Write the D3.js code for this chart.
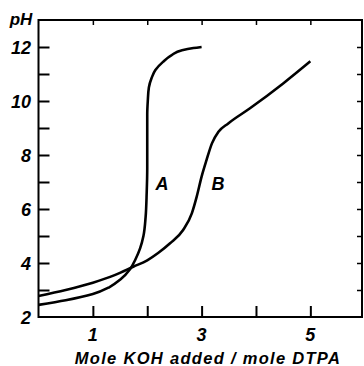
<!DOCTYPE html>
<html>
<head>
<meta charset="utf-8">
<script src="https://cdn.jsdelivr.net/npm/d3@7"></script>
<style>
  body { margin: 0; background: #fff; }
  text { font-family: "Liberation Sans", Arial, sans-serif; font-weight: bold; font-style: italic; fill: #000; }
</style>
</head>
<body>
<div id="chart"></div>
<script>
// curve A
let a_x  = [0, 0.5, 1.0, 1.3, 1.5, 1.69, 1.78, 1.87, 1.93, 1.97, 1.99, 2.0, 2.0, 2.0, 2.01, 2.03, 2.08, 2.15, 2.29, 2.45, 2.64, 2.85, 3.0];
let a_ph = [2.45, 2.62, 2.85, 3.1, 3.38, 3.79, 4.12, 4.55, 5.0, 5.7, 6.6, 7.5, 8.5, 9.5, 10.0, 10.5, 10.85, 11.15, 11.45, 11.7, 11.88, 11.96, 12.0];
// curve B
let b_x  = [0, 0.5, 1.0, 1.4, 1.75, 2.0, 2.2, 2.42, 2.66, 2.82, 2.91, 3.0, 3.09, 3.19, 3.31, 3.49, 3.89, 4.5, 5.0];
let b_ph = [2.78, 3.0, 3.27, 3.55, 3.87, 4.1, 4.37, 4.73, 5.22, 5.84, 6.46, 7.2, 7.81, 8.43, 8.86, 9.17, 9.73, 10.65, 11.47];

let x_ticks = [1, 2, 3, 4, 5];
let x_labels = [1, 3, 5];
let y_ticks = [3, 4, 5, 6, 7, 8, 9, 10, 11, 12];
let y_labels = [2, 4, 6, 8, 10, 12];

let width = 364, height = 366;
let m_left = 38.5, m_right = 362, m_top = 20, m_bottom = 317;

let svg = d3.select("#chart").append("svg")
    .attr("width", width)
    .attr("height", height);

let x = d3.scaleLinear().domain([0, 5.95]).range([m_left, m_right]);
let y = d3.scaleLinear().domain([2, 13]).range([m_bottom, m_top]);

// frame
svg.append("rect")
    .attr("x", m_left).attr("y", m_top)
    .attr("width", m_right - m_left).attr("height", m_bottom - m_top)
    .attr("fill", "none").attr("stroke", "#000").attr("stroke-width", 2);

// ticks, long on left / bottom, short on top / right
svg.append("g").attr("transform", `translate(0, ${m_bottom})`)
    .call(d3.axisTop(x).tickValues(x_ticks).tickSize(11).tickFormat(""))
    .call(g => g.select(".domain").remove())
    .selectAll("line").attr("stroke-width", 2);
svg.append("g").attr("transform", `translate(0, ${m_top})`)
    .call(d3.axisBottom(x).tickValues(x_ticks).tickSize(5).tickFormat(""))
    .call(g => g.select(".domain").remove())
    .selectAll("line").attr("stroke-width", 1.5);
svg.append("g").attr("transform", `translate(${m_left}, 0)`)
    .call(d3.axisRight(y).tickValues(y_ticks).tickSize(11).tickFormat(""))
    .call(g => g.select(".domain").remove())
    .selectAll("line").attr("stroke-width", 2);
svg.append("g").attr("transform", `translate(${m_right}, 0)`)
    .call(d3.axisLeft(y).tickValues(y_ticks).tickSize(5).tickFormat(""))
    .call(g => g.select(".domain").remove())
    .selectAll("line").attr("stroke-width", 1.5);

// tick labels
svg.selectAll(".ylab").data(y_labels).enter().append("text")
    .attr("x", 31).attr("y", d => y(d) + 6.5)
    .attr("text-anchor", "end")
    .style("font-size", "18px")
    .text(d => d);
svg.selectAll(".xlab").data(x_labels).enter().append("text")
    .attr("x", d => x(d)).attr("y", 341)
    .attr("text-anchor", "middle")
    .style("font-size", "18px")
    .text(d => d);

svg.append("text").attr("x", 21).attr("y", 25)
    .attr("text-anchor", "middle").style("font-size", "17px").text("pH");
svg.append("text").attr("x", 208).attr("y", 364)
    .attr("text-anchor", "middle").style("font-size", "16.5px")
    .style("letter-spacing", "1.3px")
    .text("Mole KOH added / mole DTPA");

// curves (A is monotone in pH, B in x)
let lineA = d3.line()
    .x(d => x(d[0])).y(d => y(d[1]))
    .curve(d3.curveMonotoneY);
let lineB = d3.line()
    .x(d => x(d[0])).y(d => y(d[1]))
    .curve(d3.curveMonotoneX);

svg.append("path").datum(d3.zip(a_x, a_ph))
    .attr("d", lineA).attr("fill", "none")
    .attr("stroke", "#000").attr("stroke-width", 2.6);
svg.append("path").datum(d3.zip(b_x, b_ph))
    .attr("d", lineB).attr("fill", "none")
    .attr("stroke", "#000").attr("stroke-width", 2.6);

svg.append("text").attr("x", x(2.27)).attr("y", y(6.7))
    .attr("text-anchor", "middle").style("font-size", "18px").text("A");
svg.append("text").attr("x", x(3.3)).attr("y", y(6.7))
    .attr("text-anchor", "middle").style("font-size", "18px").text("B");
</script>
</body>
</html>
